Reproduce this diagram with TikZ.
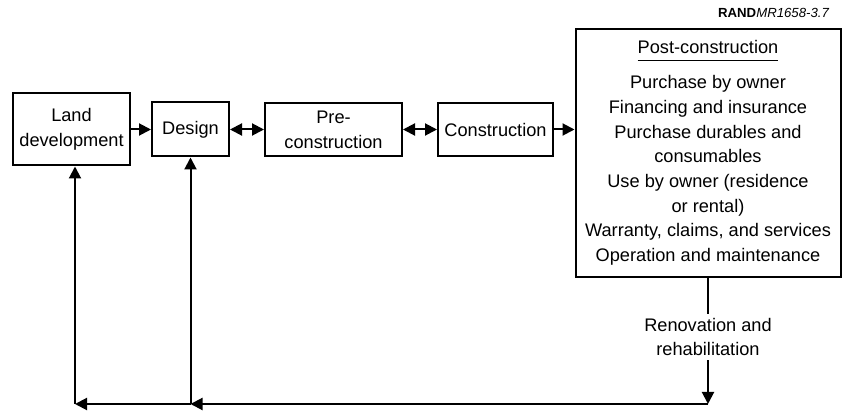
\documentclass[tikz,border=0pt]{standalone}
\usepackage{fontspec}
\setmainfont{Liberation Sans}
\usetikzlibrary{arrows.meta}
\tikzset{
	box/.style={draw, line width=1pt, align=center, inner sep=2pt},
	tri/.style={-{Triangle[length=6pt,width=6pt]}},
	bitri/.style={{Triangle[length=6pt,width=6pt]}-{Triangle[length=6pt,width=6pt]}},
}
\begin{document}
\begin{tikzpicture}[x=0.5pt,y=-0.5pt, line width=1pt, font=\fontsize{9.1}{12.35}\selectfont]
	\useasboundingbox (0,0) rectangle (843,411);
	% phases
	\node[box, minimum width=58.5pt, minimum height=36pt] (land) at (71.5,129.5) {Land\\development};
	\node[box, minimum width=38.5pt, minimum height=27pt] (design) at (190.5,129.5) {Design};
	\node[box, minimum width=68.5pt, minimum height=26.5pt] (pre) at (333.5,129.5) {Pre-\\construction};
	\node[box, minimum width=57.5pt, minimum height=26.5pt] (cons) at (495.5,129.5) {Construction};
	\node[box, minimum width=132.5pt, minimum height=124pt] (post) at (708,153)
		{\underline{\vphantom{g}Post-construction}\\[5pt]
		Purchase by owner\\
		Financing and insurance\\
		Purchase durables and\\
		consumables\\
		Use by owner (residence\\
		or rental)\\
		Warranty, claims, and services\\
		Operation and maintenance};
	\node[anchor=base east, font=\fontsize{6.6}{8}\selectfont] (rand) at (837,18) {\textbf{RAND}\textit{MR1658-3.7}};
	\draw[tri] (land) -- (design);
	\draw[bitri] (design) -- (pre);
	\draw[bitri] (pre) -- (cons);
	\draw[tri] (cons) -- (cons -| post.west);
	% feedback
	\node[fill=white, inner sep=1.5pt, align=center] (reno) at (post.south |- 0,337) {Renovation and\\rehabilitation};
	\coordinate (cr) at (post.south |- 0,404);
	\coordinate (cm) at (design.south |- 0,404);
	\coordinate (cl) at ([xshift=1.75pt]land.south |- 0,404);
	\draw (post) -- (reno);
	\draw[tri] (reno) -- (cr);
	\draw[tri] (cr) -- (cm);
	\draw[tri] (cm) -- (cl);
	\draw[tri] (cl) -- (cl |- land.south);
	\draw[tri] (cm) -- (design);
\end{tikzpicture}
\end{document}
